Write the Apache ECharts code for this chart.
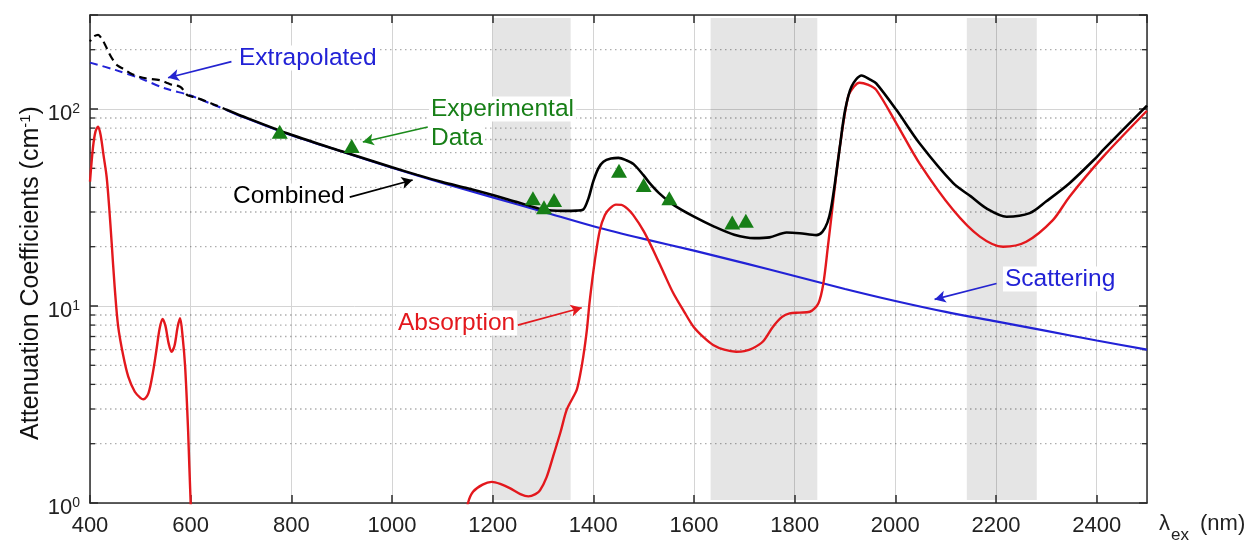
<!DOCTYPE html>
<html><head><meta charset="utf-8">
<script src="https://cdn.jsdelivr.net/npm/echarts@6/dist/echarts.min.js"></script>
<style>html,body{margin:0;padding:0;background:#fff}#c{width:1251px;height:541px}</style>
</head><body><div id="c"></div>
<script>
// ---- data (wavelength nm, attenuation cm^-1) ----
const xTicks = [400, 600, 800, 1000, 1200, 1400, 1600, 1800, 2000, 2200, 2400];
const yTicks = [1, 10, 100];
const minorYValues = [2,3,4,5,6,7,8,9,20,30,40,50,60,70,80,90,200];
const bands = [[1200, 1355], [1633, 1845], [2142, 2281]];

const scatteringExtrap = [[400,172],[450,158],[500,143],[550,127],[600,117],[640,106.4],[670,99.2]];
const scattering = [[670,99.2],[700,92],[800,73.5],[900,60.8],[1000,50.3],[1100,42.1],[1200,35.6],[1300,30.1],
  [1400,25.4],[1500,21.9],[1600,19.1],[1700,16.5],[1800,14.2],[1900,12.2],[2000,10.6],[2100,9.33],
  [2200,8.35],[2300,7.47],[2400,6.68],[2500,6.0]];

const absorptionVis = [[400,42.8],[406,64],[411,77],[416,81.3],[421,74],[427,58],[433,45.4],[438,32],[443,21],
  [449,12.5],[456,7.85],[466,5.6],[476,4.38],[489,3.67],[500,3.42],[506,3.36],[516,3.6],[525,4.6],[532,5.98],
  [538,7.6],[544,8.6],[550,7.9],[556,6.5],[562,5.86],[568,6.3],[574,7.8],[579,8.66],[584,7.0],[589,4.92],
  [595,2.3],[600,1.0],[603,0.8]];
const absorptionNIR = [[1148,0.85],[1151,1.0],[1161,1.14],[1180,1.24],[1198,1.28],[1215,1.25],[1234,1.19],
  [1255,1.11],[1271,1.08],[1285,1.11],[1294,1.16],[1307,1.35],[1320,1.72],[1335,2.3],[1347,2.97],[1360,3.45],
  [1367,3.75],[1374,4.5],[1380,5.53],[1387,7.5],[1393,10.7],[1403,17],[1413,24.3],[1423,29],[1433,31.3],
  [1445,32.7],[1456,32.6],[1467,31.3],[1479,29],[1500,24],[1519,19.2],[1540,14.7],[1559,11.6],[1580,9.4],
  [1599,7.85],[1620,6.9],[1638,6.34],[1660,6.0],[1684,5.86],[1700,5.9],[1717,6.1],[1737,6.6],[1757,7.85],
  [1775,8.8],[1790,9.18],[1810,9.25],[1830,9.35],[1847,10.3],[1857,13],[1866,20],[1873,28.4],[1882,45],
  [1890,65],[1906,115],[1918,130],[1929,136],[1945,133],[1962,125],[2002,84.6],[2048,53],[2115,30.7],
  [2168,22.5],[2214,20],[2260,21.2],[2313,27.3],[2346,35.9],[2413,57.3],[2500,98]];

const combinedExtrap = [[400,220],[406,232],[416,238],[423,228],[430,212],[438,192],[446,177],[455,166],[466,160],
  [480,152],[505,144],[539,140],[555,135],[565,132],[575,131],[582,128],[590,120],[595,117],[609,114.5],
  [640,107],[670,99.5]];
const combined = [[670,99.5],[700,92.5],[800,74],[900,61],[1000,50.6],[1050,46.3],[1100,42.6],[1150,39.6],
  [1200,36.6],[1250,33.6],[1300,30.9],[1340,30.4],[1367,30.5],[1380,30.9],[1390,35],[1400,43],[1410,50],
  [1420,54],[1435,56],[1450,56.5],[1465,55],[1480,52.5],[1500,46],[1512,42],[1530,37.5],[1560,32.5],
  [1600,28.4],[1640,25.3],[1680,23],[1720,22.1],[1750,22.3],[1784,23.6],[1810,23.4],[1843,22.9],[1855,23.8],
  [1865,26.5],[1872,31],[1880,42],[1890,65],[1900,98],[1913,130],[1933,148],[1950,141],[1962,135],[2002,99],
  [2048,67],[2115,42],[2150,36],[2181,31.3],[2221,28.4],[2267,29.6],[2300,34],[2346,42],[2400,57],[2413,62],
  [2500,104]];

const experimental = [[777,76.7],[920,64.9],[1280,35.2],[1302,31.7],[1322,34.5],[1451,48.6],[1500,41.1],
  [1551,35.2],[1676,26.5],[1703,27.1]];

// annotation arrows (data space): from -> to
const arrows = [
  {from:[681,174], to:[555,144], color:'#2424d0'},
  {from:[1071,81], to:[942,68], color:'#1b8a1b'},
  {from:[916,35.7], to:[1041,43.6], color:'#000000'},
  {from:[1250,8.0], to:[1377,9.8], color:'#e3181d'},
  {from:[2201,13.0], to:[2078,10.8], color:'#2424d0'}
];

const X_MIN = 400, X_MAX = 2500, Y_MIN = 1, Y_MAX = 300;
const BAND_Y = [1.035, 290];
const tickFont = '"Liberation Sans", Arial, Helvetica, sans-serif';
const textFont = '"Liberation Sans", Arial, Helvetica, sans-serif';
const BLUE = '#2222d6', RED = '#e3181d', GREEN = '#177f17';

const chart = echarts.init(document.getElementById('c'), null, {renderer: 'canvas'});

const yLabelFormatter = v => {
  const e = Math.round(Math.log10(v));
  if (Math.abs(Math.pow(10, e) - v) > 1e-6 || yTicks.indexOf(Math.pow(10, e)) < 0) return '';
  return '{b|10}{s|' + e + '}';
};

const axisLineStyle = {color: '#2b2b2b', width: 1.5};
const tickStyle = {show: true, inside: true, length: 8, lineStyle: {color: '#2b2b2b', width: 1.5}};
const annot = (text, x, y, color) => ({type: 'text', x, y, z: 100,
  style: {text, font: '24.5px ' + textFont, fill: color, align: 'left', verticalAlign: 'middle',
    backgroundColor: '#ffffff', padding: [0, 2, 0, 2]}});

const option = {
  animation: false,
  backgroundColor: '#ffffff',
  grid: {left: 90, right: 104, top: 15, bottom: 38},
  xAxis: [{
    type: 'value', min: X_MIN, max: X_MAX, interval: 200, position: 'bottom',
    axisLine: {show: true, lineStyle: axisLineStyle},
    axisTick: tickStyle,
    axisLabel: {show: true, margin: 12, fontFamily: tickFont, fontSize: 22, color: '#222',
      showMaxLabel: false, formatter: v => (xTicks.indexOf(v) >= 0 ? String(v) : '')},
    splitLine: {show: true, lineStyle: {color: '#d4d4d4', width: 1}}
  }, {
    type: 'value', min: X_MIN, max: X_MAX, interval: 200, position: 'top',
    axisLine: {show: true, lineStyle: axisLineStyle},
    axisTick: tickStyle, axisLabel: {show: false}, splitLine: {show: false}
  }],
  yAxis: [{
    type: 'log', logBase: 10, min: Y_MIN, max: Y_MAX, position: 'left',
    axisLine: {show: true, lineStyle: axisLineStyle},
    axisTick: tickStyle,
    axisLabel: {show: true, margin: 10, formatter: yLabelFormatter, padding: [9, 0, 0, 0],
      rich: {
        b: {fontFamily: tickFont, fontSize: 22, lineHeight: 22, color: '#222'},
        s: {fontFamily: tickFont, fontSize: 14, lineHeight: 14, verticalAlign: 'top', color: '#222'}
      }},
    splitLine: {show: true, lineStyle: {color: '#d4d4d4', width: 1}}
  }, {
    type: 'log', logBase: 10, min: Y_MIN, max: Y_MAX, position: 'right',
    axisLine: {show: true, lineStyle: axisLineStyle},
    axisTick: tickStyle, axisLabel: {show: false}, splitLine: {show: false}
  }],
  series: [
    {
      name: 'bands', type: 'custom', z: 0, silent: true,
      data: bands.map(b => [b[0], b[1]]),
      renderItem: (params, api) => {
        const p0 = api.coord([api.value(0), BAND_Y[1]]);
        const p1 = api.coord([api.value(1), BAND_Y[0]]);
        return {type: 'rect', z2: 0, shape: {x: p0[0], y: p0[1], width: p1[0] - p0[0], height: p1[1] - p0[1]},
          style: {fill: 'rgba(0,0,0,0.1)'}};
      }
    },
    {
      name: 'minor-grid', type: 'custom', z: 2, silent: true,
      data: minorYValues.map(v => [X_MIN, v]),
      renderItem: (params, api) => {
        const v = api.value(1);
        const pL = api.coord([X_MIN, v]);
        const pR = api.coord([X_MAX, v]);
        return {type: 'group', children: [
          {type: 'line', z2: 10, shape: {x1: pL[0], y1: pL[1], x2: pR[0], y2: pR[1]},
           style: {stroke: 'rgba(0,0,0,0.32)', lineWidth: 1.3, lineDash: [1.5, 3.5]}},
          {type: 'line', z2: 10, shape: {x1: pL[0], y1: pL[1], x2: pL[0] + 5, y2: pL[1]},
           style: {stroke: '#2b2b2b', lineWidth: 1.3}},
          {type: 'line', z2: 10, shape: {x1: pR[0] - 5, y1: pR[1], x2: pR[0], y2: pR[1]},
           style: {stroke: '#2b2b2b', lineWidth: 1.3}}
        ]};
      }
    },
    {name: 'Scattering (extrapolated)', type: 'line', data: scatteringExtrap, showSymbol: false, smooth: 0.3,
      lineStyle: {color: BLUE, width: 2, type: [8, 5]}, z: 3},
    {name: 'Scattering', type: 'line', data: scattering, showSymbol: false, smooth: 0.3,
      lineStyle: {color: BLUE, width: 2.2}, z: 3},
    {name: 'Absorption', type: 'line', data: absorptionVis, showSymbol: false, smooth: 0.3,
      lineStyle: {color: RED, width: 2.4}, z: 4},
    {name: 'Absorption NIR', type: 'line', data: absorptionNIR, showSymbol: false, smooth: 0.3,
      lineStyle: {color: RED, width: 2.4}, z: 4},
    {name: 'Combined (extrapolated)', type: 'line', data: combinedExtrap, showSymbol: false, smooth: 0.3,
      lineStyle: {color: '#000', width: 2.2, type: [8, 5], dashOffset: 6}, z: 5},
    {name: 'Combined', type: 'line', data: combined, showSymbol: false, smooth: 0.3,
      lineStyle: {color: '#000', width: 2.6}, z: 5},
    {name: 'Experimental Data', type: 'scatter', data: experimental, symbol: 'triangle', symbolSize: [16, 14],
      itemStyle: {color: GREEN, opacity: 1}, z: 6,
      markLine: {
        silent: true, symbol: ['none', 'arrow'], symbolSize: [9, 11], z: 7,
        label: {show: false}, emphasis: {disabled: true},
        data: arrows.map(a => [{coord: a.from, lineStyle: {color: a.color, width: 1.7, type: 'solid'}},
                               {coord: a.to}])
      }}
  ],
  graphic: [
    annot('Extrapolated', 237, 58, BLUE),
    annot('Experimental', 429, 109, GREEN),
    annot('Data', 429, 138, GREEN),
    annot('Combined', 231, 196, '#000'),
    annot('Absorption', 396, 323, RED),
    annot('Scattering', 1003, 279, BLUE),
    {type: 'text', x: 31, y: 273, rotation: Math.PI / 2,
      style: {text: '{n|Attenuation Coefficients (cm}{s|-1}{n|)}', align: 'center', verticalAlign: 'middle',
        rich: {n: {font: '25px ' + textFont, fill: '#111', lineHeight: 25},
               s: {font: '15px ' + textFont, fill: '#111', lineHeight: 14, verticalAlign: 'top'}}}},
    {type: 'text', x: 1159, y: 524, style: {text: 'λ', font: '22px ' + tickFont, fill: '#222', align: 'left', verticalAlign: 'middle'}},
    {type: 'text', x: 1171, y: 535, style: {text: 'ex', font: '17px ' + tickFont, fill: '#222', align: 'left', verticalAlign: 'middle'}},
    {type: 'text', x: 1200, y: 524, style: {text: '(nm)', font: '22px ' + tickFont, fill: '#222', align: 'left', verticalAlign: 'middle'}}
  ]
};
chart.setOption(option);
</script></body></html>
